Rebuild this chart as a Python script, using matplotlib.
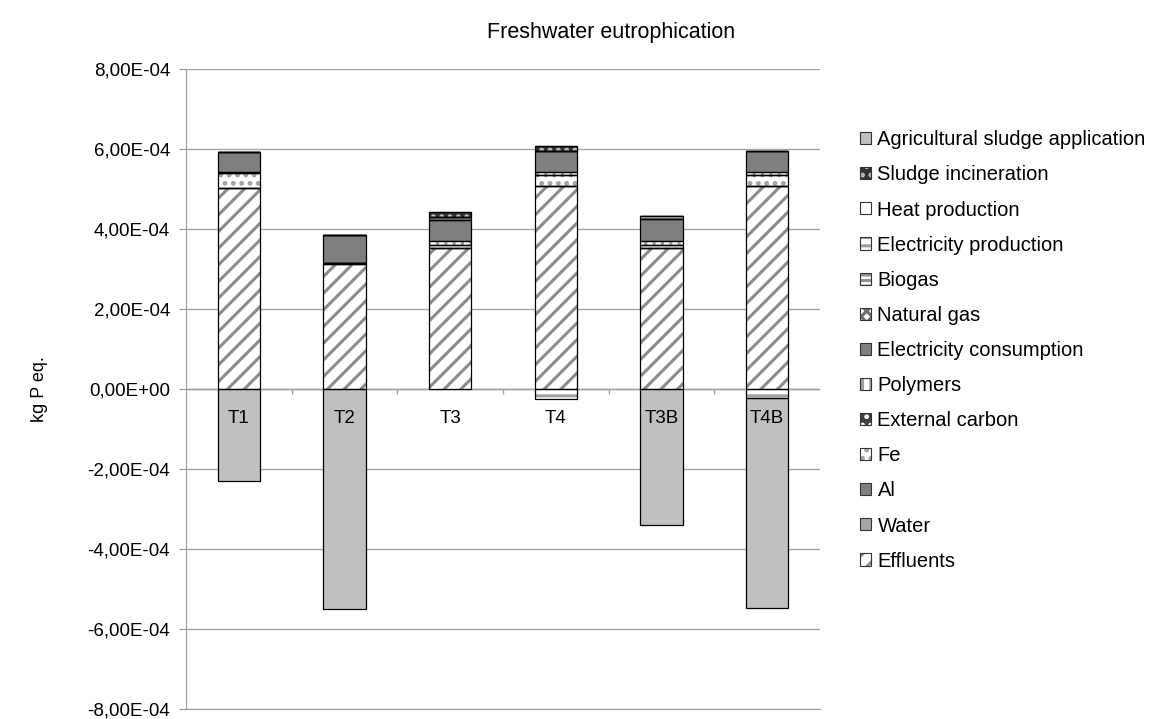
import numpy as np
import matplotlib
matplotlib.use("Agg")
import matplotlib.pyplot as plt
from matplotlib.patches import Patch
from matplotlib.legend_handler import HandlerTuple

plt.rcParams['font.family'] = ['Liberation Sans', 'DejaVu Sans']
plt.rcParams['hatch.linewidth'] = 2.2

# Data (units of 1E-4 kg P eq.)
categories = ["T1", "T2", "T3", "T4", "T3B", "T4B"]
effluents = [5.02, 3.12, 3.52, 5.08, 3.52, 5.08]
water = [0, 0, 0, 0, 0, 0]
al = [0, 0.03, 0, 0, 0, 0]
fe = [0.38, 0, 0.09, 0.27, 0.09, 0.28]
external_carbon = [0, 0, 0, 0, 0, 0]
polymers = [0.02, 0, 0.08, 0.07, 0.08, 0.07]
electricity_consumption = [0.50, 0.70, 0.53, 0.53, 0.56, 0.53]
natural_gas = [0, 0, 0, 0, 0, 0]
biogas = [0, 0, 0.08, 0, 0.08, 0]
electricity_production = [0, 0, 0, -0.25, 0, -0.22]
heat_production = [0, 0, 0, 0, 0, 0]
sludge_incineration = [0, 0, 0.12, 0.12, 0, 0]
agricultural = [-2.30, -5.50, 0, 0, -3.40, -5.25]

series = [
    ("Effluents", effluents),
    ("Water", water),
    ("Al", al),
    ("Fe", fe),
    ("External carbon", external_carbon),
    ("Polymers", polymers),
    ("Electricity consumption", electricity_consumption),
    ("Natural gas", natural_gas),
    ("Biogas", biogas),
    ("Electricity production", electricity_production),
    ("Heat production", heat_production),
    ("Sludge incineration", sludge_incineration),
    ("Agricultural sludge application", agricultural),
]

# face colour, hatch, hatch colour
styles = {
    "Effluents": ("white", "//", "#8c8c8c"),
    "Water": ("#a6a6a6", "", "#a6a6a6"),
    "Al": ("#7f7f7f", "", "#7f7f7f"),
    "Fe": ("white", "..", "#a0a0a0"),
    "External carbon": ("#404040", "..", "white"),
    "Polymers": ("white", "||", "#a0a0a0"),
    "Electricity consumption": ("#7f7f7f", "", "#7f7f7f"),
    "Natural gas": ("white", "xxx", "#707070"),
    "Biogas": ("white", "---", "#909090"),
    "Electricity production": ("white", "--", "#a0a0a0"),
    "Heat production": ("white", "", "white"),
    "Sludge incineration": ("#333333", "..", "#bbbbbb"),
    "Agricultural sludge application": ("#c0c0c0", "", "#c0c0c0"),
}

fig = plt.figure(figsize=(11.58, 7.19), dpi=100)
ax = fig.add_axes([0.1606, 0.0139, 0.5475, 0.8901])

x = np.arange(len(categories))
width = 0.4
pos_bottom = np.zeros(len(categories))
neg_bottom = np.zeros(len(categories))
handles = []
for name, vals in series:
    vals = np.array(vals, dtype=float)
    bottom = np.where(vals >= 0, pos_bottom, neg_bottom)
    face, hatch, hcol = styles[name]
    ax.bar(x, vals, width, bottom=bottom, color=face, hatch=hatch,
           edgecolor=hcol, linewidth=0, zorder=2)
    ax.bar(x, vals, width, bottom=bottom, fill=False,
           edgecolor="black", linewidth=0.9, zorder=3)
    pos_bottom += np.where(vals > 0, vals, 0)
    neg_bottom += np.where(vals < 0, vals, 0)
    handles.append(((Patch(facecolor=face, hatch=hatch, edgecolor=hcol, linewidth=0),
                     Patch(fill=False, edgecolor="#333333", linewidth=0.8)), name))

ax.set_ylim(-8, 8)
ax.set_xlim(-0.5, len(categories) - 0.5)
ax.set_yticks(np.arange(-8, 9, 2))
ax.set_yticklabels([f"{v * 1e-4:.2E}".replace(".", ",") for v in np.arange(-8, 9, 2)],
                   fontsize=13.5)
ax.tick_params(axis="y", length=5, color="#909090", pad=6.5)
ax.set_xticks([])
ax.yaxis.grid(True, color="#a6a6a6", linewidth=1)
ax.set_axisbelow(True)
for s in ["top", "right"]:
    ax.spines[s].set_visible(False)
for s in ["left", "bottom"]:
    ax.spines[s].set_color("#a0a0a0")

# category axis at zero
ax.axhline(0, color="#a0a0a0", linewidth=1, zorder=1)
ax.vlines(x[:-1] + 0.5, 0, -0.13, color="#a0a0a0", linewidth=1, zorder=1)
for xi, c in zip(x, categories):
    ax.annotate(c, (xi, 0), xytext=(0, -15), textcoords="offset points",
                ha="center", va="top", fontsize=13.5, zorder=5)

ax.set_ylabel("kg P eq.", fontsize=13, labelpad=28)
fig.text(0.528, 0.955, "Freshwater eutrophication", ha="center", va="center", fontsize=15.5)

hs = [h for h, n in handles][::-1]
ns = [n for h, n in handles][::-1]
fig.legend(hs, ns, loc="upper left", bbox_to_anchor=(0.736, 0.830), frameon=False,
           fontsize=14.5, handlelength=0.55, handleheight=0.55, handletextpad=0.3,
           labelspacing=0.8, borderaxespad=0,
           handler_map={tuple: HandlerTuple(ndivide=1)})

fig.savefig("out.png", dpi=100)
